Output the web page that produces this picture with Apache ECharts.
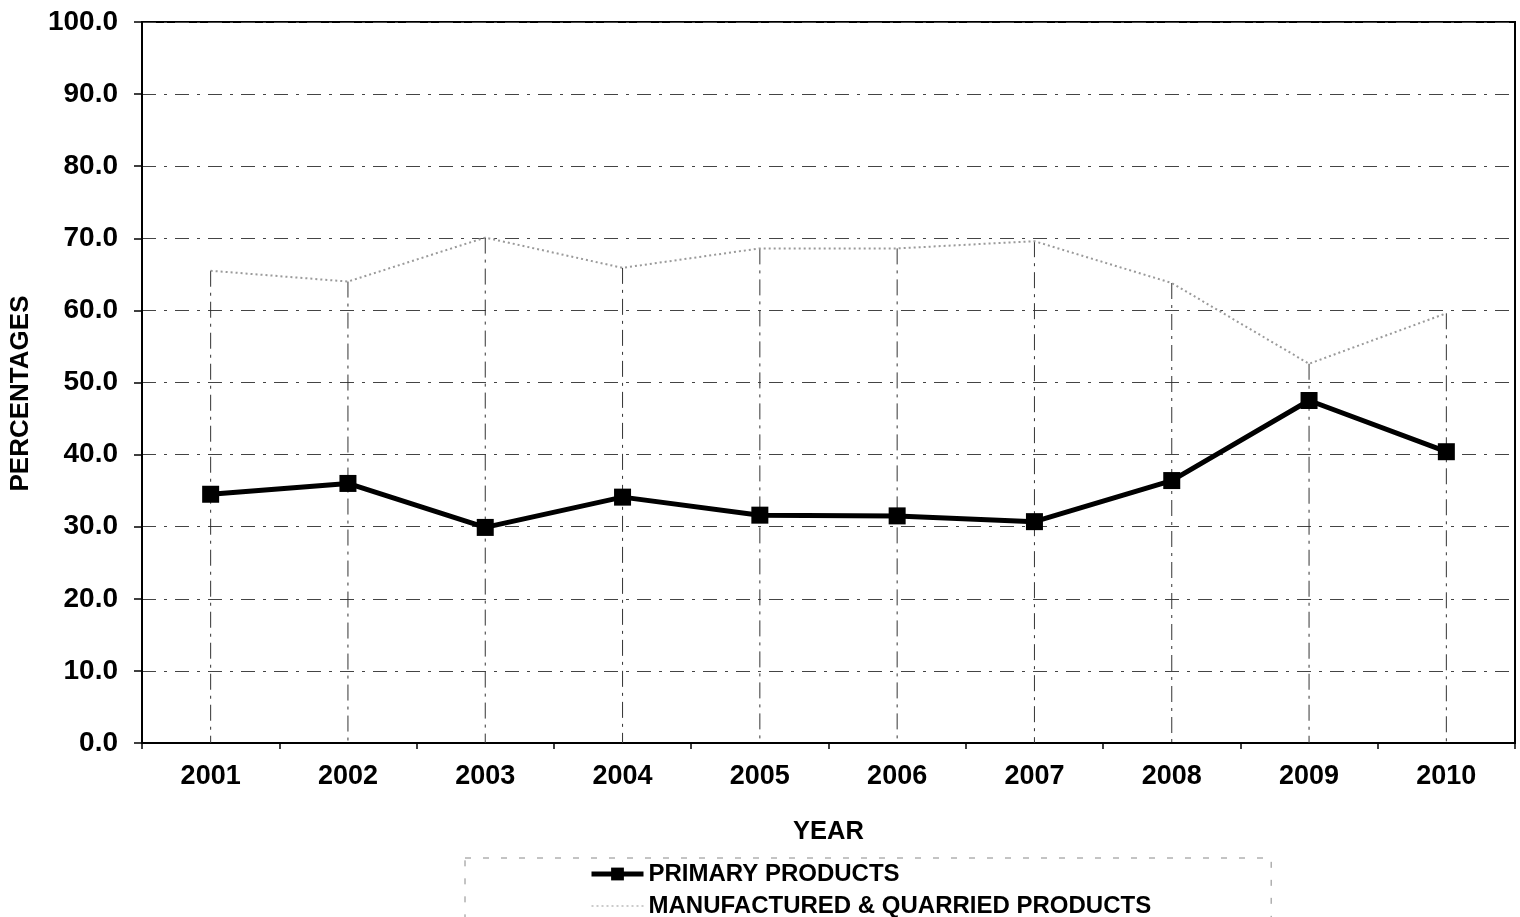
<!DOCTYPE html>
<html>
<head>
<meta charset="utf-8">
<script src="https://cdn.jsdelivr.net/npm/echarts@6/dist/echarts.min.js"></script>
<style>
html,body{margin:0;padding:0;background:#fff;}
#chart{width:1520px;height:917px;}
</style>
</head>
<body>
<div id="chart"></div>
<script>
const years = ['2001','2002','2003','2004','2005','2006','2007','2008','2009','2010'];
const primaryProducts = [34.5, 36.0, 29.9, 34.1, 31.6, 31.5, 30.7, 36.4, 47.5, 40.4];
const manufacturedQuarried = [65.5, 64.0, 70.1, 65.9, 68.6, 68.6, 69.6, 63.8, 52.6, 59.6];
const yTicks = { min: 0, max: 100, interval: 10 };

const FONT = "'Liberation Sans', Arial, sans-serif";
const chart = echarts.init(document.getElementById('chart'));
chart.setOption({
  backgroundColor: '#fff',
  animation: false,
  grid: {
    left: 142, right: 5, top: 22, bottom: 174,
    show: true, borderColor: '#000', borderWidth: 2
  },
  legend: {
    data: [
      { name: 'PRIMARY PRODUCTS', lineStyle: { width: 5, color: '#000' } },
      { name: 'MANUFACTURED & QUARRIED PRODUCTS', itemStyle: { opacity: 0 }, lineStyle: { width: 1.5, color: '#bbb', type: [2, 3] } }
    ],
    orient: 'vertical',
    left: 465, top: 858,
    height: 200,
    padding: [4, 120, 20, 124],
    itemGap: 8,
    itemWidth: 52,
    itemHeight: 16,
    borderColor: '#888',
    borderWidth: 1,
    borderType: [6, 12],
    textStyle: { fontFamily: FONT, fontWeight: 'bold', fontSize: 24, color: '#000', lineHeight: 22 }
  },
  xAxis: {
    type: 'category',
    data: years,
    boundaryGap: true,
    name: 'YEAR',
    nameLocation: 'middle',
    nameGap: 76,
    nameTextStyle: { fontFamily: FONT, fontWeight: 'bold', fontSize: 25.5, color: '#000', verticalAlign: 'top' },
    axisLine: { lineStyle: { color: '#000', width: 2 } },
    axisTick: { show: true, length: 6, lineStyle: { color: '#000', width: 1.5 } },
    axisLabel: { fontFamily: FONT, fontWeight: 'bold', fontSize: 27, color: '#000', margin: 20 },
    splitLine: { show: false }
  },
  yAxis: {
    type: 'value',
    min: yTicks.min, max: yTicks.max, interval: yTicks.interval,
    name: 'PERCENTAGES',
    nameLocation: 'middle',
    nameGap: 108,
    nameTextStyle: { fontFamily: FONT, fontWeight: 'bold', fontSize: 26, color: '#000', padding: [0, 22, 0, 0] },
    axisLine: { show: true, lineStyle: { color: '#000', width: 2 } },
    axisTick: { show: true, length: 8, lineStyle: { color: '#000', width: 1.5 } },
    axisLabel: {
      fontFamily: FONT, fontWeight: 'bold', fontSize: 28, color: '#000', margin: 24,
      formatter: v => v.toFixed(1)
    },
    splitLine: { show: true, lineStyle: { color: '#444', width: 1, type: [14, 8, 3, 8] } }
  },
  series: [
    {
      name: 'droplines',
      type: 'custom',
      silent: true,
      z: 1,
      data: manufacturedQuarried.map((v, i) => [i, v]),
      encode: { x: 0, y: 1 },
      renderItem: function (params, api) {
        const top = api.coord([api.value(0), api.value(1)]);
        const bot = api.coord([api.value(0), 0]);
        return {
          type: 'line',
          shape: { x1: top[0], y1: top[1], x2: bot[0], y2: bot[1] },
          style: { stroke: '#333', lineWidth: 1, lineDash: [16, 6, 3, 6] }
        };
      }
    },
    {
      name: 'MANUFACTURED & QUARRIED PRODUCTS',
      type: 'line',
      data: manufacturedQuarried,
      z: 3,
      symbol: 'none',
      lineStyle: { color: '#9a9a9a', width: 2, type: [2, 3] },
      itemStyle: { color: '#9a9a9a' }
    },
    {
      name: 'PRIMARY PRODUCTS',
      type: 'line',
      data: primaryProducts,
      z: 4,
      symbol: 'rect',
      symbolSize: 17,
      lineStyle: { color: '#000', width: 5 },
      itemStyle: { color: '#000' }
    }
  ]
});
</script>
</body>
</html>
